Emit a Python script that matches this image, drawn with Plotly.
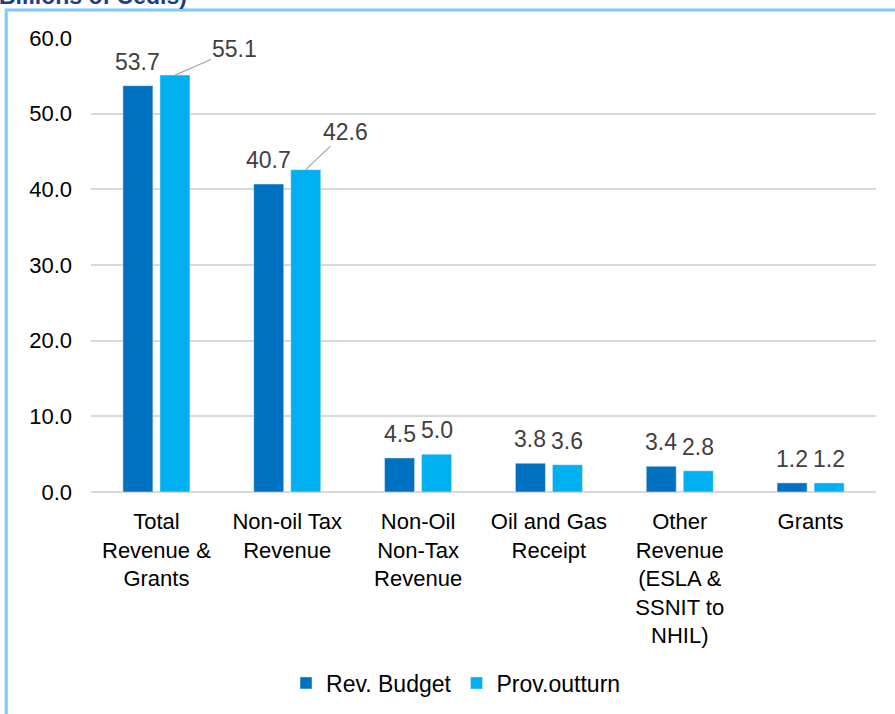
import plotly.graph_objects as go

categories = ["Total<br>Revenue &<br>Grants", "Non-oil Tax<br>Revenue", "Non-Oil<br>Non-Tax<br>Revenue",
              "Oil and Gas<br>Receipt", "Other<br>Revenue<br>(ESLA &<br>SSNIT to<br>NHIL)", "Grants"]
rev_budget = [53.7, 40.7, 4.5, 3.8, 3.4, 1.2]
prov_outturn = [55.1, 42.6, 5.0, 3.6, 2.8, 1.2]
series_names = ["Rev. Budget", "Prov.outturn"]
y_ticks = [0, 10, 20, 30, 40, 50, 60]

DARK = "#0070C0"
LIGHT = "#00B0F0"
FONT = "Liberation Sans, Arial, sans-serif"

fig = go.Figure()
fig.add_trace(go.Bar(x=categories, y=rev_budget, name=series_names[0], marker_color=DARK))
fig.add_trace(go.Bar(x=categories, y=prov_outturn, name=series_names[1], marker_color=LIGHT))

annotations = []
# special leader-line labels (index in prov_outturn): (ax, ay)
leader = {0: (60, -26), 1: (40, -38)}
for i, c in enumerate(categories):
    annotations.append(dict(x=c, y=rev_budget[i], xref="x", yref="y", text=f"{rev_budget[i]:.1f}",
                            showarrow=False, xshift=-18.5, yshift=9, yanchor="bottom",
                            font=dict(size=23, color="#404040", family=FONT)))
    if i in leader:
        ax, ay = leader[i]
        annotations.append(dict(x=c, y=prov_outturn[i], xref="x", yref="y", text=f"{prov_outturn[i]:.1f}",
                                showarrow=True, arrowhead=0, arrowwidth=1.2, arrowcolor="#A6A6A6",
                                ax=ax, ay=ay, standoff=0, xshift=18.5,
                                font=dict(size=23, color="#404040", family=FONT)))
    else:
        annotations.append(dict(x=c, y=prov_outturn[i], xref="x", yref="y", text=f"{prov_outturn[i]:.1f}",
                                showarrow=False, xshift=18.5, yshift=9, yanchor="bottom",
                                font=dict(size=23, color="#404040", family=FONT)))

annotations.append(dict(x=-0.12, y=1.059, xref="paper", yref="paper", xanchor="left", yanchor="bottom",
                        text="<b>Billions of Cedis)</b>", showarrow=False,
                        font=dict(size=23, color="#1F3C88", family=FONT)))

fig.update_layout(
    width=895, height=714,
    margin=dict(l=91, r=19, t=38, b=222),
    paper_bgcolor="white", plot_bgcolor="white",
    barmode="group", bargap=0.434, bargroupgap=0.19,
    font=dict(family=FONT, size=22, color="#000000"),
    annotations=annotations,
    showlegend=True,
    legend=dict(orientation="h", x=0.465, xanchor="center", yref="container", y=0.0434, yanchor="middle",
                font=dict(size=23, color="#000000", family=FONT), traceorder="normal"),
    shapes=[dict(type="rect", xref="paper", yref="paper", x0=-0.108, x1=1.2, y0=-0.6, y1=1.0617,
                 line=dict(color="#7DC9FA", width=3), layer="below")],
)
fig.update_yaxes(range=[0, 60], tickvals=y_ticks, ticktext=[f"{v:.1f}" for v in y_ticks], automargin=False,
                 showgrid=True, gridcolor="#D9D9D9", gridwidth=1.5, zeroline=True, zerolinecolor="#D9D9D9",
                 zerolinewidth=1.5, tickfont=dict(size=22, color="#000000"), ticklabelstandoff=18,
                 showline=False)
fig.update_xaxes(showline=False, automargin=False, tickfont=dict(size=22, color="#000000"), ticklabelstandoff=14)

fig.write_html("out.html", config={"displayModeBar": False},
               post_script="document.body.style.margin='0px';")
